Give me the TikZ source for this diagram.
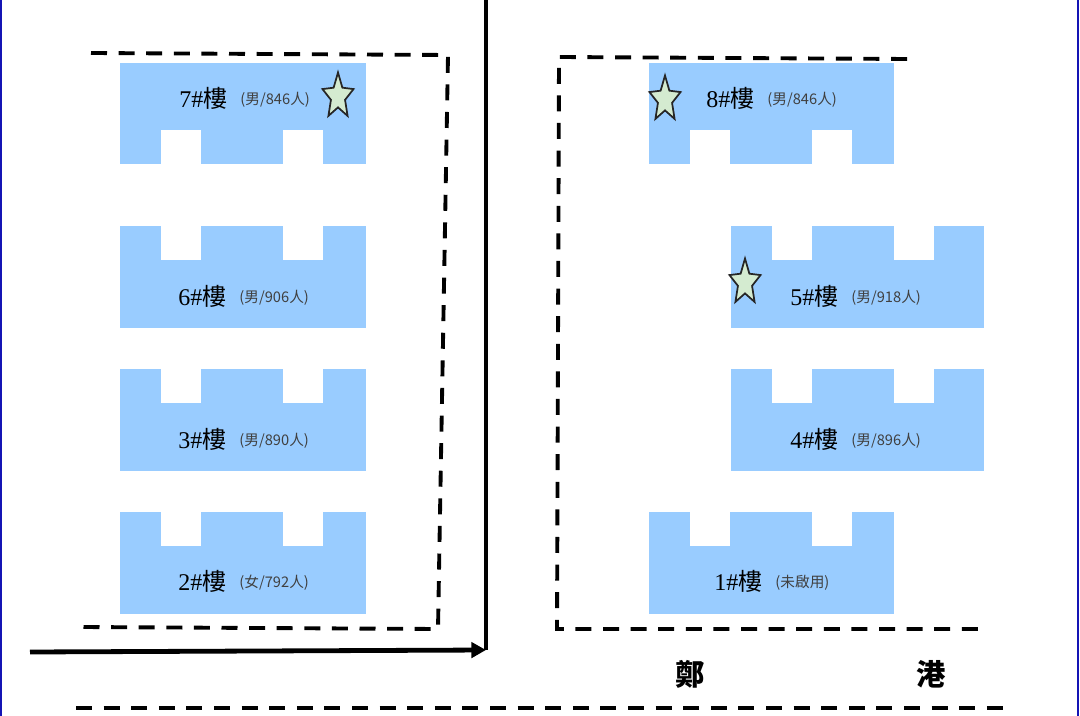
\documentclass[tikz,border=0pt]{standalone}
\usepackage{fontspec}
\setmainfont{Liberation Serif}
\newfontfamily\cjkfont{Noto Sans CJK TC}
\usepackage{xcolor}
\usetikzlibrary{shapes.geometric, arrows.meta, positioning}

\definecolor{wingblue}{HTML}{99CCFF}
\definecolor{stargreen}{HTML}{D4EBD0}
\definecolor{frameblue}{HTML}{1414B4}

\begin{document}
\begin{tikzpicture}[
    x=0.75pt, y=-0.75pt,
    % --- building styles ---
    wing/.style={fill=wingblue},
    notch/.style={fill=white},
    blockname/.style={anchor=west, inner sep=0pt, font=\fontsize{18}{18}\selectfont},
    blocknote/.style={inner sep=0pt, text=black!75, font=\cjkfont\fontsize{11}{11}\selectfont},
    starmark/.style={star, star points=5, star point ratio=2.2, minimum size=36pt,
        inner sep=0pt, draw=black!85, line width=1.3pt, fill=stargreen,
        xscale=0.68, transform shape},
    portname/.style={inner sep=0pt, font=\cjkfont\bfseries\fontsize{22}{22}\selectfont},
    % --- line styles ---
    route/.style={line width=2.9pt, dash pattern=on 12pt off 8.7pt},
    road/.style={line width=3.6pt},
    frameleft/.style={line width=1.4pt, draw=frameblue},
    frameright/.style={line width=2.2pt, draw=frameblue},
    node distance=0pt and 9.5pt
]

\useasboundingbox (0,0) rectangle (1080,716);

%%% ================= PAGE EDGES =================
\draw [frameleft] (1,0) -- (1,716);
\draw [frameright] (1078,0) -- (1078,716);

%%% ================= BUILDINGS =================
%% notches on the lower side
\foreach \bx/\by/\bw in {120/63/246, 649/63/245} {
    \fill [wing] (\bx,\by) rectangle ++(\bw,101.5);
    \fill [notch] (\bx+41,\by+67.5) rectangle ++(40,34.5);
    \fill [notch] (\bx+163,\by+67.5) rectangle ++(40,34.5);
}
%% notches on the upper side
\foreach \bx/\by/\bw in {120/226/246, 120/369/246, 120/512/246, 730.5/226/253.5, 730.5/369/253.5, 649/512/245} {
    \fill [wing] (\bx,\by) rectangle ++(\bw,101.5);
    \fill [notch] (\bx+41,\by-0.5) rectangle ++(40,34.5);
    \fill [notch] (\bx+163,\by-0.5) rectangle ++(40,34.5);
}

%%% ================= LABELS =================
\foreach \bn/\bx/\by/\bt in {7/179/98/{男/846人}, 6/178/296/{男/906人}, 3/178/439/{男/890人},
    2/178/581/{女/792人}, 8/706/98/{男/846人}, 5/790/296/{男/918人}, 4/790/439/{男/896人},
    1/714/581/未啟用} {
    \node (name\bn) [blockname] at (\bx,\by) {\bn\#{\cjkfont 樓}};
    \node (note\bn) [blocknote, right=of name\bn, yshift=-1.5pt] {(\bt)};
}

%%% ================= STARS =================
\node (star7) [starmark] at (338,96.5) {};
\node (star8) [starmark] at (665,99.5) {};
\node (star5) [starmark] at (745,282.5) {};

%%% ================= ROUTES =================
\draw [route] (91,53) -- (448,55) -- (438,629) -- (82,627);
\draw [route] (907,59) -- (559,57) -- (557,629) -- (978,629);
\draw [route] (76,708) -- (1005,708);

%%% ================= ROADS =================
\coordinate (roadtop) at (486,0);
\coordinate (roadend) at (486,650);
\coordinate (arrowstart) at (30,652);
\draw [road] (roadtop) -- (roadend);
\draw [road, -{Triangle[length=11pt, width=11.5pt]}] (arrowstart) -- (roadend);

%%% ================= PORT =================
\node (portleft) [portname] at (690,674) {鄭};
\node (portright) [portname] at (931,674) {港};

\end{tikzpicture}
\end{document}
